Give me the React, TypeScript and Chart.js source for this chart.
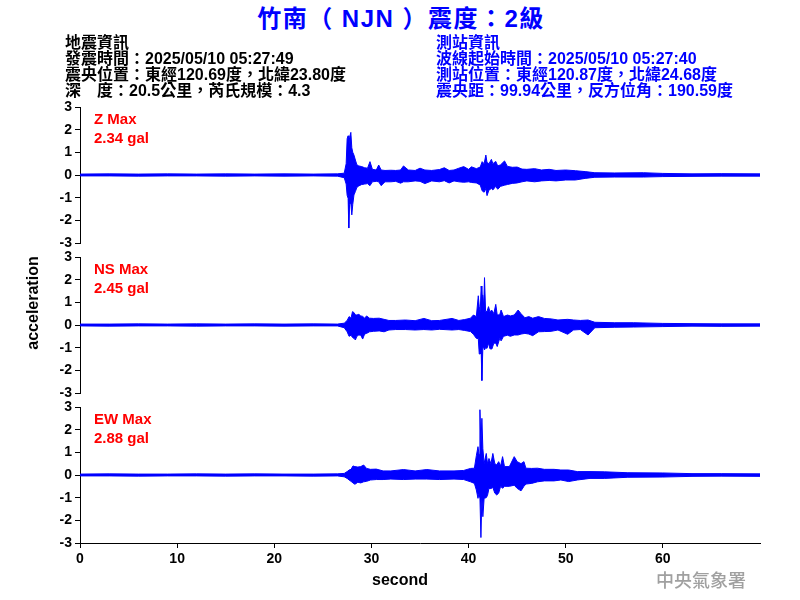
import React, { useEffect, useRef } from "react";
import { Chart, registerables } from "chart.js";
Chart.register(...registerables);

// ---------- Data ----------
const xTickValues = [0, 10, 20, 30, 40, 50, 60];
const yTickValues = [-3, -2, -1, 0, 1, 2, 3];

// Z component envelope (seconds, gal)
const zTime = [
  0, 3, 6, 9, 12, 15, 18, 21, 24, 26.5,
  27.2, 27.4, 27.5, 27.6, 27.67, 27.75, 27.88, 27.98, 28.08, 28.2,
  28.35, 28.5, 28.7, 29.0, 29.3, 29.6, 29.85, 30.1, 30.5, 30.75,
  31.0, 31.4, 32.0, 32.5, 33.0, 33.3, 33.8, 34.5, 35.0, 35.5,
  36.2, 37.0, 37.5, 38.0, 38.5, 39.0, 39.5, 40.0, 40.3, 40.8,
  41.2, 41.4, 41.6, 41.78, 41.9, 42.1, 42.35, 42.5, 42.8, 43.0,
  43.3, 43.7, 44.0, 44.5, 45.0, 45.5, 46.0, 46.8, 47.5, 48.3,
  49.0, 50.0, 51.0, 52.0, 53, 55, 58, 60, 63, 66, 70,
];
const zUpper = [
  0.04, 0.05, 0.04, 0.05, 0.04, 0.05, 0.04, 0.05, 0.04, 0.05,
  0.08, 0.5, 1.6, 1.73, 1.2, 1.65, 1.88, 1.2, 1.0, 0.88,
  0.66, 0.45, 0.4, 0.37, 0.32, 0.3, 0.59, 0.25, 0.22, 0.44,
  0.22, 0.2, 0.21, 0.2, 0.22, 0.4, 0.22, 0.2, 0.3, 0.22,
  0.2, 0.24, 0.32, 0.2, 0.22, 0.3, 0.37, 0.25, 0.36, 0.28,
  0.35, 0.59, 0.5, 0.88, 0.55, 0.5, 0.69, 0.5, 0.6, 0.4,
  0.45, 0.62, 0.38, 0.34, 0.35, 0.26, 0.25, 0.28, 0.22, 0.25,
  0.2, 0.22, 0.19, 0.15, 0.1, 0.09, 0.1, 0.07, 0.05, 0.06, 0.05,
];
const zLower = [
  -0.04, -0.04, -0.05, -0.04, -0.04, -0.05, -0.04, -0.05, -0.04, -0.05,
  -0.12, -0.4, -0.9, -1.03, -2.34, -1.3, -1.25, -1.76, -1.3, -0.88,
  -0.73, -0.55, -0.48, -0.42, -0.4, -0.38, -0.47, -0.3, -0.28, -0.3,
  -0.47, -0.3, -0.3, -0.28, -0.36, -0.3, -0.3, -0.26, -0.28, -0.38,
  -0.26, -0.3, -0.25, -0.35, -0.26, -0.3, -0.32, -0.3, -0.33, -0.35,
  -0.44, -0.7, -0.76, -0.6, -0.91, -0.66, -0.6, -0.66, -0.5, -0.63,
  -0.5, -0.45, -0.42, -0.37, -0.35, -0.3, -0.26, -0.3, -0.26, -0.24,
  -0.26, -0.22, -0.22, -0.15, -0.1, -0.09, -0.09, -0.07, -0.06, -0.05, -0.05,
];

// NS component envelope
const nsTime = [
  0, 3, 6, 9, 12, 15, 18, 21, 24, 26.5,
  27.2, 27.5, 27.7, 27.9, 28.05, 28.2, 28.35, 28.5, 28.7, 28.9,
  29.1, 29.3, 29.5, 29.8, 30.2, 30.8, 31.3, 31.8, 32.5, 33.5,
  34.5, 35.4, 36.2, 37.0, 38.3, 39.0, 39.6, 40.2, 40.5, 40.8,
  41.0, 41.1, 41.2, 41.3, 41.37, 41.47, 41.56, 41.64, 41.75, 41.9,
  42.05, 42.2, 42.4, 42.6, 42.8, 42.95, 43.2, 43.35, 43.6, 44.0,
  44.3, 44.7, 45.1, 45.4, 45.8, 46.2, 46.6, 47.2, 47.8, 48.5,
  49.2, 50.2, 50.8, 51.5, 52.3, 53, 55, 57, 60, 63, 66, 70,
];
const nsUpper = [
  0.04, 0.04, 0.05, 0.04, 0.05, 0.04, 0.05, 0.04, 0.05, 0.04,
  0.08, 0.2, 0.37, 0.3, 0.59, 0.55, 0.45, 0.44, 0.47, 0.4,
  0.38, 0.3, 0.4, 0.3, 0.29, 0.3, 0.25, 0.2, 0.2, 0.22,
  0.19, 0.29, 0.19, 0.2, 0.29, 0.2, 0.24, 0.3, 0.44, 0.37,
  1.29, 0.8, 0.6, 1.72, 1.3, 1.32, 0.8, 2.09, 0.59, 0.6,
  0.81, 0.59, 0.65, 0.5, 0.91, 0.44, 0.45, 0.66, 0.37, 0.44,
  0.4, 0.44, 0.66, 0.5, 0.32, 0.37, 0.3, 0.37, 0.29, 0.27,
  0.22, 0.25, 0.22, 0.2, 0.22, 0.12, 0.1, 0.1, 0.07, 0.06, 0.05, 0.05,
];
const nsLower = [
  -0.04, -0.05, -0.04, -0.04, -0.05, -0.04, -0.04, -0.05, -0.04, -0.04,
  -0.12, -0.3, -0.5, -0.45, -0.55, -0.59, -0.66, -0.5, -0.44, -0.45,
  -0.62, -0.4, -0.37, -0.3, -0.28, -0.26, -0.3, -0.22, -0.2, -0.2,
  -0.22, -0.2, -0.22, -0.19, -0.22, -0.2, -0.24, -0.29, -0.41, -0.59,
  -0.6, -1.28, -1.28, -1.2, -2.45, -1.0, -1.0, -1.1, -1.0, -1.03,
  -0.8, -1.05, -1.06, -0.8, -0.8, -0.95, -0.6, -0.7, -0.5, -0.45,
  -0.5, -0.44, -0.44, -0.4, -0.37, -0.4, -0.47, -0.3, -0.29, -0.28,
  -0.22, -0.41, -0.22, -0.2, -0.44, -0.12, -0.1, -0.09, -0.07, -0.05, -0.06, -0.05,
];

// EW component envelope
const ewTime = [
  0, 3, 6, 9, 12, 15, 18, 21, 24, 26.5,
  27.2, 27.5, 27.7, 27.9, 28.1, 28.3, 28.6, 28.9, 29.2, 29.5,
  29.9, 30.5, 31.2, 32.0, 33.3, 34.5, 35.7, 37.0, 38.5, 39.5,
  40.2, 40.6, 40.8, 40.97, 41.08, 41.17, 41.27, 41.37, 41.47, 41.6,
  41.82, 41.95, 42.1, 42.3, 42.5, 42.7, 42.9, 43.1, 43.3, 43.5,
  43.7, 44.2, 44.7, 45.0, 45.4, 45.7, 45.9, 46.5, 47.1, 47.8,
  48.8, 49.5, 50.3, 51.2, 52.5, 54, 56.4, 60, 63, 66, 70,
];
const ewUpper = [
  0.04, 0.05, 0.04, 0.04, 0.05, 0.04, 0.05, 0.04, 0.04, 0.05,
  0.07, 0.15, 0.22, 0.25, 0.4, 0.37, 0.35, 0.37, 0.44, 0.29,
  0.25, 0.26, 0.18, 0.18, 0.24, 0.18, 0.24, 0.18, 0.18, 0.2,
  0.29, 0.3, 0.85, 1.25, 0.9, 2.88, 1.3, 2.5, 1.17, 0.51,
  0.95, 0.5, 0.73, 0.5, 0.95, 0.5, 0.45, 0.59, 0.4, 0.81,
  0.37, 0.37, 0.81, 0.59, 0.5, 0.59, 0.3, 0.29, 0.3, 0.25,
  0.25, 0.22, 0.22, 0.15, 0.15, 0.14, 0.1, 0.09, 0.06, 0.06, 0.05,
];
const ewLower = [
  -0.04, -0.04, -0.05, -0.04, -0.04, -0.05, -0.04, -0.04, -0.05, -0.04,
  -0.08, -0.15, -0.22, -0.28, -0.35, -0.41, -0.32, -0.35, -0.3, -0.28,
  -0.22, -0.2, -0.2, -0.18, -0.2, -0.18, -0.18, -0.2, -0.18, -0.2,
  -0.3, -0.37, -0.66, -1.03, -0.8, -1.0, -2.76, -1.0, -1.84, -1.03,
  -1.0, -0.9, -0.59, -0.6, -0.55, -0.8, -0.88, -0.8, -0.5, -0.59,
  -0.5, -0.5, -0.45, -0.59, -0.7, -0.5, -0.4, -0.37, -0.3, -0.26,
  -0.26, -0.22, -0.29, -0.22, -0.15, -0.15, -0.1, -0.09, -0.06, -0.05, -0.06,
];

const panelNames = ["Z Max", "NS Max", "EW Max"];
const panelMaxLabels = ["2.34 gal", "2.45 gal", "2.88 gal"];

const titleText = "竹南（ NJN ）震度：2級";
const quakeInfo = [
  "地震資訊",
  "發震時間：2025/05/10 05:27:49",
  "震央位置：東經120.69度，北緯23.80度",
  "深　度：20.5公里，芮氏規模：4.3",
];
const stationInfo = [
  "測站資訊",
  "波線起始時間：2025/05/10 05:27:40",
  "測站位置：東經120.87度，北緯24.68度",
  "震央距：99.94公里，反方位角：190.59度",
];

// ---------- Styles ----------
const BLUE = "#0000ff";
const FONT = '"Liberation Sans", Arial, "Noto Sans CJK TC", sans-serif';

type PanelProps = {
  time: number[];
  upper: number[];
  lower: number[];
  showX: boolean;
  top: number;
  height: number;
  padTop: number;
  padBottom: number;
};

function Panel({ time, upper, lower, showX, top, height, padTop, padBottom }: PanelProps) {
  const ref = useRef<HTMLCanvasElement>(null);
  useEffect(() => {
    if (!ref.current) return;
    const up = time.map((t, i) => ({ x: t, y: upper[i] }));
    const lo = time.map((t, i) => ({ x: t, y: lower[i] }));
    const tickFont = { family: FONT, size: 14, weight: "bold" as const };
    const chart = new Chart(ref.current, {
      type: "line",
      data: {
        datasets: [
          { data: up, borderColor: BLUE, backgroundColor: BLUE, borderWidth: 1, pointRadius: 0, fill: "origin", tension: 0 },
          { data: lo, borderColor: BLUE, backgroundColor: BLUE, borderWidth: 1, pointRadius: 0, fill: "origin", tension: 0 },
        ],
      },
      options: {
        responsive: false,
        animation: false,
        devicePixelRatio: 1,
        events: [],
        layout: { padding: { top: padTop, bottom: padBottom, left: 0, right: 40 } },
        plugins: { legend: { display: false }, tooltip: { enabled: false } },
        scales: {
          x: {
            type: "linear",
            min: 0,
            max: 70,
            display: showX,
            afterBuildTicks: (s: any) => {
              s.ticks = xTickValues.map((v) => ({ value: v }));
            },
            afterFit: (s: any) => {
              s.height = showX ? 57 : 0;
            },
            grid: { drawOnChartArea: false, drawTicks: true, tickLength: 5, color: "#000" },
            border: { display: true, color: "#000", width: 1 },
            ticks: { color: "#000", font: tickFont, padding: 3, maxRotation: 0, autoSkip: false },
          },
          y: {
            type: "linear",
            min: -3,
            max: 3,
            afterBuildTicks: (s: any) => {
              s.ticks = yTickValues.map((v) => ({ value: v }));
            },
            afterFit: (s: any) => {
              s.width = 80;
            },
            grid: { drawOnChartArea: false, drawTicks: true, tickLength: 5, color: "#000" },
            border: { display: true, color: "#000", width: 1 },
            ticks: { color: "#000", font: tickFont, padding: 3, autoSkip: false },
          },
        },
      },
    });
    return () => chart.destroy();
  }, []);
  return (
    <canvas
      ref={ref}
      width={800}
      height={height}
      style={{ position: "absolute", left: 0, top, display: "block", width: 800, height }}
    />
  );
}

export default function App() {
  const panels = [
    { time: zTime, upper: zUpper, lower: zLower },
    { time: nsTime, upper: nsUpper, lower: nsLower },
    { time: ewTime, upper: ewUpper, lower: ewLower },
  ];
  return (
    <div style={{ position: "fixed", left: 0, top: 0, width: 800, height: 600, background: "#fff", overflow: "hidden" }}>
      <Panel {...panels[0]} showX={false} top={95} height={160} padTop={12} padBottom={12} />
      <Panel {...panels[1]} showX={false} top={245} height={160} padTop={12} padBottom={12} />
      <Panel {...panels[2]} showX={true} top={395} height={205} padTop={12} padBottom={0} />

      <div
        style={{
          position: "absolute", left: 0, top: 7, width: 802, textAlign: "center",
          font: `bold 24px ${FONT}`, lineHeight: "24px", color: BLUE, letterSpacing: 1.5, whiteSpace: "pre",
        }}
      >
        {titleText}
      </div>

      <div style={{ position: "absolute", left: 65, top: 35, font: `bold 16px ${FONT}`, lineHeight: "16px", color: "#000", whiteSpace: "pre" }}>
        {quakeInfo.map((l, i) => (<div key={i}>{l}</div>))}
      </div>
      <div style={{ position: "absolute", left: 436, top: 35, font: `bold 16px ${FONT}`, lineHeight: "16px", color: BLUE, whiteSpace: "pre" }}>
        {stationInfo.map((l, i) => (<div key={i}>{l}</div>))}
      </div>

      {panelNames.map((n, i) => (
        <div
          key={n}
          style={{ position: "absolute", left: 94, top: 109 + i * 150, font: `bold 15px ${FONT}`, lineHeight: "19px", color: "#ff0000", whiteSpace: "pre" }}
        >
          <div>{n}</div>
          <div>{panelMaxLabels[i]}</div>
        </div>
      ))}

      <div
        style={{
          position: "absolute", left: 33 - 60, top: 303 - 10, width: 120, height: 20, textAlign: "center",
          transform: "rotate(-90deg)", font: `bold 16px ${FONT}`, lineHeight: "20px", color: "#000",
        }}
      >
        acceleration
      </div>
      <div
        style={{ position: "absolute", left: 340, top: 570, width: 120, textAlign: "center", font: `bold 16px ${FONT}`, lineHeight: "20px", color: "#000" }}
      >
        second
      </div>
      <div
        style={{ position: "absolute", left: 656, top: 571, font: `500 18px ${FONT}`, lineHeight: "20px", color: "#a0a0a0", whiteSpace: "pre" }}
      >
        中央氣象署
      </div>
    </div>
  );
}
